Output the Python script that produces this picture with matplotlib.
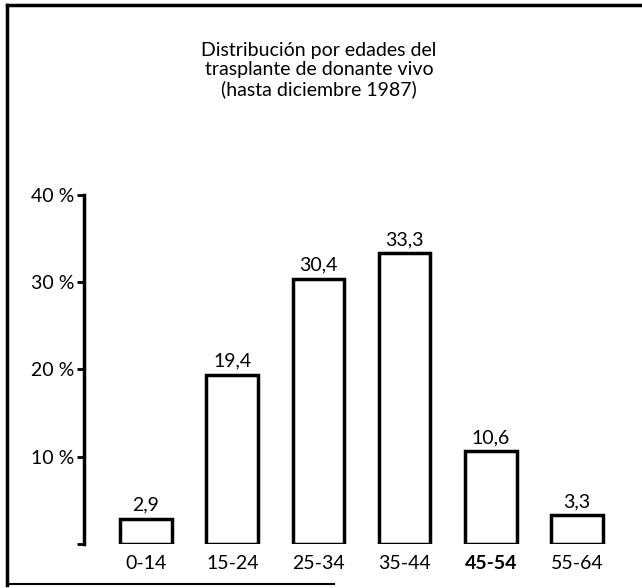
import numpy as np
import matplotlib.pyplot as plt
from matplotlib.lines import Line2D

plt.rcParams['font.family'] = ['Lato', 'DejaVu Sans']

# Age groups and share of living-donor transplants (%)
ageGroups = ["0-14", "15-24", "25-34", "35-44", "45-54", "55-64"]
percentages = [2.9, 19.4, 30.4, 33.3, 10.6, 3.3]
percentLabels = ["2,9", "19,4", "30,4", "33,3", "10,6", "3,3"]

yTicks = [0, 10, 20, 30, 40]
yTickLabels = ["", "10 %", "20 %", "30 %", "40 %"]

fig = plt.figure(figsize=(6.42, 5.88), dpi=100)
ax = fig.add_axes([0.1308, 0.0748, 0.866, 0.594])

x = np.arange(len(ageGroups))
ax.bar(x, percentages, width=0.6, facecolor="white", edgecolor="black", linewidth=2.5)

for xi, val, lab in zip(x, percentages, percentLabels):
    ax.text(xi, val + 0.6, lab, ha="center", va="bottom", fontsize=14)

ax.set_xlim(-0.72, 5.73)
ax.set_ylim(0, 40)
ax.set_xticks(x)
ax.set_xticklabels(ageGroups, fontsize=14)
ax.tick_params(axis="x", length=0, pad=8)
# the 45-54 label is printed heavier in the original
ax.get_xticklabels()[4].set_fontweight("bold")
ax.set_yticks(yTicks)
ax.set_yticklabels(yTickLabels, fontsize=14)
ax.tick_params(axis="y", length=5, width=2, pad=2)

for side in ["top", "right", "bottom"]:
    ax.spines[side].set_visible(False)
ax.spines["left"].set_linewidth(2.5)

fig.text(0.497, 0.928, "Distribución por edades del\ntrasplante de donante vivo\n(hasta diciembre 1987)",
         ha="center", va="top", fontsize=14, linespacing=1.15)

# scanned frame around the chart
fig.add_artist(Line2D([0.011, 0.011], [0.005, 0.992], color="black", linewidth=2.5))
fig.add_artist(Line2D([0.011, 0.998], [0.992, 0.992], color="black", linewidth=2.5))
fig.add_artist(Line2D([0.011, 0.52], [0.006, 0.006], color="black", linewidth=1.5))

fig.savefig("out.png", dpi=100)
